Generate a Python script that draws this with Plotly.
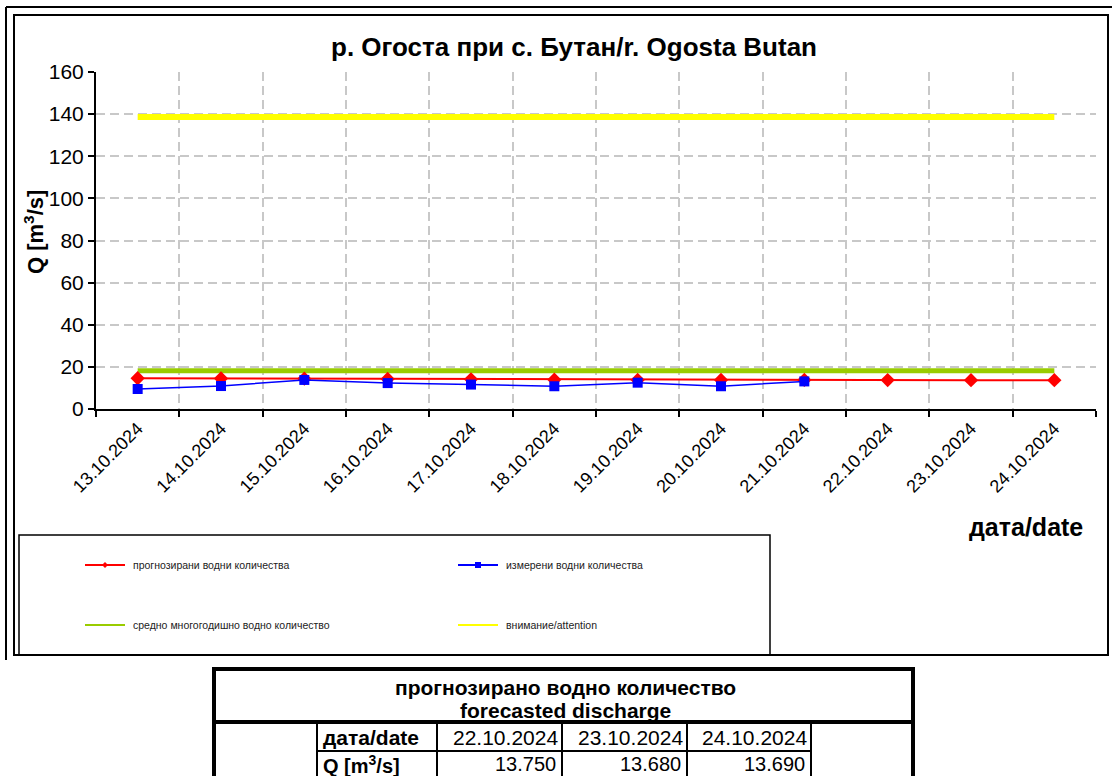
import plotly.graph_objects as go

# ---------------- data ----------------
dates = ["13.10.2024", "14.10.2024", "15.10.2024", "16.10.2024", "17.10.2024", "18.10.2024",
         "19.10.2024", "20.10.2024", "21.10.2024", "22.10.2024", "23.10.2024", "24.10.2024"]
forecast = [14.6, 14.5, 14.4, 14.3, 14.1, 13.9, 13.8, 13.8, 13.8, 13.75, 13.68, 13.69]
measured = [9.5, 10.9, 13.8, 12.3, 11.6, 10.8, 12.5, 10.8, 13.1, None, None, None]
mean_q = [18.2] * 12
attention_q = [138.6] * 12

series_names = ["прогнозирани водни количества", "измерени водни количества",
                "средно многогодишно водно количество", "внимание/attention"]

table_dates = ["22.10.2024", "23.10.2024", "24.10.2024"]
table_q = [13.750, 13.680, 13.690]

title = "р. Огоста при с. Бутан/r. Ogosta Butan"
y_ticks = [0, 20, 40, 60, 80, 100, 120, 140, 160]

# ---------------- layout helpers ----------------
W, H = 1112, 776
FONT = "Liberation Sans, Arial, sans-serif"


def X(p):
    return p / W


def Y(p):
    return 1 - p / H


fig = go.Figure()

fig.add_trace(go.Scatter(x=dates, y=attention_q, mode="lines", name=series_names[3],
                         line=dict(color="#ffff00", width=6), showlegend=False))
fig.add_trace(go.Scatter(x=dates, y=mean_q, mode="lines", name=series_names[2],
                         line=dict(color="#99cc00", width=5), showlegend=False))
fig.add_trace(go.Scatter(x=dates, y=forecast, mode="lines+markers", name=series_names[0],
                         line=dict(color="#ff0000", width=2),
                         marker=dict(symbol="diamond", size=11, color="#ff0000"), showlegend=False))
fig.add_trace(go.Scatter(x=dates, y=measured, mode="lines+markers", name=series_names[1],
                         line=dict(color="#0000ff", width=1.5),
                         marker=dict(symbol="square", size=10, color="#0000ff"), showlegend=False))

shapes = []
annotations = []


def rect(x0, y0, x1, y1, w=1.5, color="black"):
    shapes.append(dict(type="rect", xref="paper", yref="paper", x0=X(x0), x1=X(x1), y0=Y(y0), y1=Y(y1),
                       line=dict(color=color, width=w), fillcolor="rgba(0,0,0,0)"))


def hline(x0, x1, y, w=1.5, color="black"):
    shapes.append(dict(type="line", xref="paper", yref="paper", x0=X(x0), x1=X(x1), y0=Y(y), y1=Y(y),
                       line=dict(color=color, width=w)))


def vline(x, y0, y1, w=1.5, color="black"):
    shapes.append(dict(type="line", xref="paper", yref="paper", x0=X(x), x1=X(x), y0=Y(y0), y1=Y(y1),
                       line=dict(color=color, width=w)))


def text(x, y, t, size=12, bold=False, xanchor="center", yanchor="middle", color="black", angle=0):
    if bold:
        t = "<b>" + t + "</b>"
    annotations.append(dict(x=X(x), y=Y(y), xref="paper", yref="paper", text=t, showarrow=False,
                            xanchor=xanchor, yanchor=yanchor, textangle=angle,
                            font=dict(family=FONT, size=size, color=color)))


# chart frame (double)
hline(6, 1112, 7, w=2)
vline(6, 7, 660, w=2)
rect(14, 15, 1108, 655, w=2)

# legend box
rect(19, 535, 770, 655, w=1.5)
leg_pos = [(85, 565), (458, 565), (85, 625), (458, 625)]
leg_colors = ["#ff0000", "#0000ff", "#99cc00", "#ffff00"]
for i, (lx, ly) in enumerate(leg_pos):
    hline(lx, lx + 40, ly, w=2, color=leg_colors[i])
    text(lx + 46, ly, series_names[i], size=10.5, xanchor="left", color="#222222")
# legend markers
shapes.append(dict(type="path", xref="paper", yref="paper",
                   path="M %f %f L %f %f L %f %f L %f %f Z" % (X(105 - 3), Y(565), X(105), Y(562), X(105 + 3), Y(565), X(105), Y(568)),
                   fillcolor="#ff0000", line=dict(color="#ff0000", width=0)))
shapes.append(dict(type="rect", xref="paper", yref="paper", x0=X(475), x1=X(481), y0=Y(562), y1=Y(568),
                   fillcolor="#0000ff", line=dict(color="#0000ff", width=0)))

# title and axis labels
text(574, 47, title, size=26, bold=True)
text(34, 232, "Q [m<sup>3</sup>/s]", size=22, bold=True, angle=-90)
text(1026, 527, "дата/date", size=25, bold=True)

# table
rect(214, 669, 913, 790, w=4)
hline(214, 913, 722, w=4)
vline(317, 722, 790, w=2)
vline(437, 722, 790, w=2)
vline(562, 722, 790, w=2)
vline(687, 722, 790, w=2)
vline(811, 722, 790, w=2)
hline(317, 811, 751, w=2)
text(565, 687, "прогнозирано водно количество", size=21, bold=True)
text(565, 710, "forecasted discharge", size=21, bold=True)
text(321, 737, "дата/date", size=21, bold=True, xanchor="left")
text(321, 764, "Q [m<sup>3</sup>/s]", size=20, bold=True, xanchor="left")
col_right = [560, 685, 809]
for i in range(3):
    text(col_right[i], 737, table_dates[i], size=21, xanchor="right")
    text(col_right[i] - 2, 764, "%.3f" % table_q[i], size=20, xanchor="right")

fig.update_layout(
    width=W, height=H,
    margin=dict(l=0, r=0, t=0, b=0, autoexpand=False),
    paper_bgcolor="white", plot_bgcolor="white",
    showlegend=False,
    shapes=shapes, annotations=annotations,
    font=dict(family=FONT, size=20, color="black"),
    xaxis=dict(domain=[X(96), X(1096)], type="category", categoryorder="array", categoryarray=dates,
               automargin=False,
               tickson="boundaries", ticks="outside", ticklen=6, tickcolor="black", tickwidth=1.5,
               showline=True, linecolor="black", linewidth=2,
               showgrid=True, gridcolor="#c8c8c8", griddash="9px,5px", gridwidth=1.5,
               tickangle=-45, tickfont=dict(family=FONT, size=18), range=[-0.5, 11.5]),
    yaxis=dict(domain=[Y(409), Y(72)], range=[0, 160], tickvals=y_ticks,
               automargin=False,
               ticks="outside", ticklen=6, tickcolor="black", tickwidth=1.5,
               showline=True, linecolor="black", linewidth=2, zeroline=False,
               showgrid=True, gridcolor="#c8c8c8", griddash="9px,5px", gridwidth=1.5,
               tickfont=dict(family=FONT, size=21)),
)

fig.write_html("out.html", config={"displayModeBar": False},
               post_script="document.body.style.margin='0';document.body.style.overflow='hidden';")
